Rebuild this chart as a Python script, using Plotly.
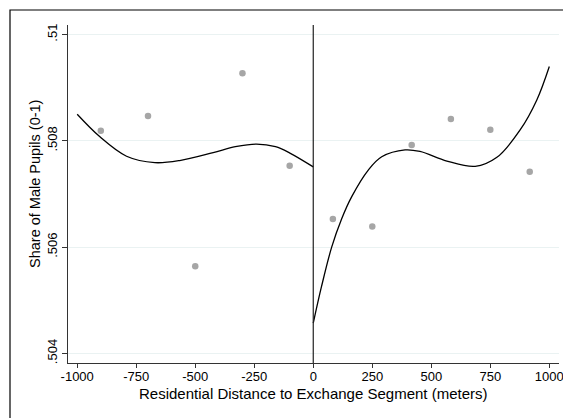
import plotly.graph_objects as go

# Binned means (scatter)
bin_x_left = [-900, -700, -500, -300, -100]
bin_y_left = [0.50819, 0.50847, 0.50564, 0.50927, 0.50753]
bin_x_right = [83, 250, 417, 583, 750, 917]
bin_y_right = [0.50653, 0.50639, 0.50792, 0.50841, 0.50821, 0.50742]

# Fitted polynomial curves
fit_x_left = [-1000, -905, -791, -671, -566, -424, -330, -240, -160, -99, 0]
fit_y_left = [0.50850, 0.50808, 0.50771, 0.50759, 0.50763, 0.50778, 0.50789, 0.50794, 0.50789, 0.50777, 0.50751]
fit_x_right = [0, 35, 78, 120, 163, 233, 290, 389, 452, 566, 686, 778, 877, 947, 1000]
fit_y_right = [0.50457, 0.50526, 0.50600, 0.50653, 0.50695, 0.50745, 0.50770, 0.50783, 0.50780, 0.50762, 0.50752, 0.50769, 0.50821, 0.50877, 0.50940]

x_ticks = [-1000, -750, -500, -250, 0, 250, 500, 750, 1000]
x_tick_labels = ["-1000", "-750", "-500", "-250", "0", "250", "500", "750", "1000"]
y_ticks = [0.504, 0.506, 0.508, 0.510]
y_tick_labels = [".504", ".506", ".508", ".51"]

x_title = "Residential Distance to Exchange Segment (meters)"
y_title = "Share of Male Pupils (0-1)"

FONT = "Liberation Sans, Arial, Helvetica, sans-serif"

fig = go.Figure()
for xs, ys in [(bin_x_left, bin_y_left), (bin_x_right, bin_y_right)]:
    fig.add_trace(go.Scatter(x=xs, y=ys, mode="markers",
                             marker=dict(color="#a6a6a6", size=6.5),
                             showlegend=False, hoverinfo="skip"))
for xs, ys in [(fit_x_left, fit_y_left), (fit_x_right, fit_y_right)]:
    fig.add_trace(go.Scatter(x=xs, y=ys, mode="lines",
                             line=dict(color="black", width=1.3, shape="spline", smoothing=1.0),
                             showlegend=False, hoverinfo="skip"))

# vertical cutoff line
fig.add_shape(type="line", xref="x", yref="paper", x0=0, x1=0, y0=0, y1=1,
              line=dict(color="#222222", width=1.2))
# outer frame
fig.add_shape(type="rect", xref="paper", yref="paper",
              x0=(10 - 68) / 491, x1=1.2, y0=-0.3, y1=1 + 15 / 338,
              line=dict(color="black", width=1.2), fillcolor="rgba(0,0,0,0)", layer="above")

# axis titles as annotations (precise placement)
fig.add_annotation(text=x_title, xref="paper", yref="paper", x=0.5, y=(363 - 394) / 338,
                   xanchor="center", yanchor="middle", showarrow=False,
                   font=dict(family=FONT, size=15, color="black"))
fig.add_annotation(text=y_title, xref="paper", yref="paper", x=(35 - 68) / 491,
                   y=(363 - 184) / 338, textangle=-90,
                   xanchor="center", yanchor="middle", showarrow=False,
                   font=dict(family=FONT, size=14.5, color="black"))

fig.update_layout(
    width=563, height=418,
    margin=dict(l=68, r=4, t=25, b=55, autoexpand=False),
    paper_bgcolor="white", plot_bgcolor="white",
    font=dict(family=FONT, size=13, color="black"),
    xaxis=dict(range=[-1039, 1041], tickvals=x_ticks, ticktext=x_tick_labels,
               ticks="outside", ticklen=4, ticklabelstandoff=-3,
               automargin=False, ticklabeloverflow="allow",
               tickcolor="#333333", showline=True, linecolor="#333333", linewidth=1,
               showgrid=False, zeroline=False, tickfont=dict(size=13)),
    yaxis=dict(range=[0.50382, 0.51018], tickvals=y_ticks, ticktext=y_tick_labels,
               tickangle=-90, ticks="outside", ticklen=5, automargin=False,
               tickcolor="#333333", showline=True, linecolor="#333333", linewidth=1,
               showgrid=True, gridcolor="#eaf2f2", gridwidth=1, zeroline=False,
               tickfont=dict(size=13)),
)

fig.write_html("out.html", config={"displayModeBar": False},
               post_script="document.body.style.margin='0';document.body.style.overflow='hidden';")
